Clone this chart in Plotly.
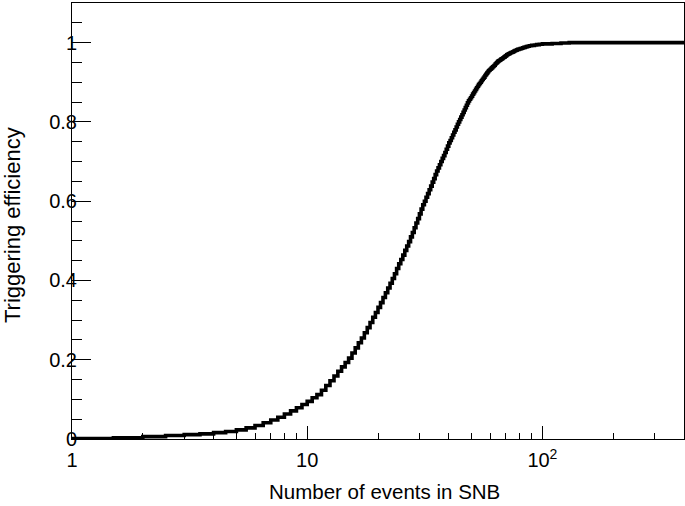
import numpy as np
import plotly.graph_objects as go

# Histogram: bins of 0.5 events from 1 to 100, then a few wide tail bins
fine_start = 1.0
fine_width = 0.5
tail_edges = [110, 120, 130, 400]
x_min = 1.0
x_max = 400.0

# Triggering efficiency per 0.5-wide bin, 1.0 ... 100.0
efficiency_fine = [
    0.001, 0.003, 0.006, 0.009, 0.011, 0.013, 0.016, 0.019, 0.023, 0.028,
    0.034, 0.041, 0.048, 0.055, 0.063, 0.071, 0.079, 0.087, 0.095, 0.104,
    0.112, 0.123, 0.135, 0.147, 0.159, 0.171, 0.182, 0.193, 0.204, 0.217,
    0.230, 0.243, 0.255, 0.268, 0.281, 0.294, 0.307, 0.319, 0.332, 0.344,
    0.357, 0.369, 0.381, 0.393, 0.405, 0.417, 0.430, 0.442, 0.453, 0.464,
    0.476, 0.487, 0.498, 0.510, 0.521, 0.533, 0.545, 0.556, 0.568, 0.580,
    0.591, 0.600, 0.610, 0.619, 0.629, 0.638, 0.648, 0.657, 0.667, 0.676,
    0.684, 0.692, 0.700, 0.708, 0.715, 0.723, 0.731, 0.739, 0.747, 0.753,
    0.760, 0.767, 0.774, 0.780, 0.787, 0.794, 0.800, 0.806, 0.812, 0.818,
    0.824, 0.830, 0.836, 0.842, 0.848, 0.853, 0.857, 0.861, 0.865, 0.870,
    0.874, 0.878, 0.882, 0.886, 0.890, 0.894, 0.897, 0.900, 0.904, 0.907,
    0.910, 0.913, 0.917, 0.920, 0.923, 0.926, 0.929, 0.931, 0.933, 0.935,
    0.937, 0.939, 0.941, 0.943, 0.946, 0.948, 0.950, 0.952, 0.954, 0.955,
    0.956, 0.958, 0.959, 0.960, 0.962, 0.963, 0.964, 0.966, 0.967, 0.969,
    0.970, 0.971, 0.972, 0.973, 0.974, 0.975, 0.975, 0.976, 0.977, 0.978,
    0.979, 0.980, 0.980, 0.981, 0.982, 0.983, 0.983, 0.984, 0.984, 0.985,
    0.985, 0.986, 0.986, 0.987, 0.987, 0.988, 0.988, 0.989, 0.989, 0.990,
    0.990, 0.991, 0.991, 0.991, 0.992, 0.992, 0.992, 0.992, 0.993, 0.993,
    0.993, 0.993, 0.993, 0.994, 0.994, 0.994, 0.994, 0.995, 0.995, 0.995,
    0.995, 0.995, 0.996, 0.996, 0.996, 0.996, 0.996, 0.996,
]
# Efficiency in the wide tail bins 100-110, 110-120, 120-130, 130-400
efficiency_tail = [0.997, 0.998, 0.999, 1.000]

x_tickvals = [1, 10, 100]
x_ticktext = ["1", "10", "10<sup>2</sup>"]
x_minor = [2, 3, 4, 5, 6, 7, 8, 9, 20, 30, 40, 50, 60, 70, 80, 90, 200, 300]
y_tickvals = [0, 0.2, 0.4, 0.6, 0.8, 1.0]
y_ticktext = ["0", "0.2", "0.4", "0.6", "0.8", "1"]

x_title = "Number of events in SNB"
y_title = "Triggering efficiency"

n_fine = len(efficiency_fine)
fine_edges = list(fine_start + fine_width * np.arange(n_fine + 1))
edges = fine_edges + tail_edges
values = efficiency_fine + efficiency_tail
xs = edges
ys = values + [values[-1]]

FONT = "Liberation Sans, Arial, sans-serif"

fig = go.Figure()
fig.add_trace(go.Scatter(
    x=xs, y=ys, mode="lines", line=dict(shape="hv", color="black", width=3.6),
    showlegend=False, hoverinfo="skip",
))

fig.update_layout(
    width=685, height=506,
    margin=dict(l=72, r=1, t=3, b=67, autoexpand=False),
    paper_bgcolor="white", plot_bgcolor="white",
    font=dict(family=FONT, size=20, color="black"),
    xaxis=dict(
        type="log", range=[np.log10(x_min), np.log10(x_max)],
        automargin=False,
        tickmode="array", tickvals=x_tickvals, ticktext=x_ticktext,
        ticks="inside", ticklen=13, tickwidth=1, tickcolor="black",
        ticklabelstandoff=3,
        minor=dict(tickmode="array", tickvals=x_minor, ticks="inside",
                   ticklen=6, tickwidth=1, tickcolor="black", showgrid=False),
        showline=True, linecolor="black", linewidth=1, mirror=True,
        showgrid=False, zeroline=False,
        tickfont=dict(family=FONT, size=20, color="black"),
    ),
    yaxis=dict(
        range=[0, 1.1], automargin=False,
        tickmode="array", tickvals=y_tickvals, ticktext=y_ticktext,
        ticks="inside", ticklen=19, tickwidth=1, tickcolor="black",
        ticklabelstandoff=-10,
        minor=dict(dtick=0.05, tick0=0, ticks="inside", ticklen=10,
                   tickwidth=1, tickcolor="black", showgrid=False),
        showline=True, linecolor="black", linewidth=1, mirror=True,
        showgrid=False, zeroline=False,
        tickfont=dict(family=FONT, size=20, color="black"),
    ),
    annotations=[
        dict(text=x_title, xref="paper", yref="paper", x=0.5, y=0.0,
             xanchor="center", yanchor="middle", yshift=-52, xshift=6,
             showarrow=False, font=dict(family=FONT, size=20.5, color="black")),
        dict(text=y_title, xref="paper", yref="paper", x=0, y=0.5,
             xanchor="center", yanchor="middle", xshift=-60, yshift=-4,
             textangle=-90, showarrow=False,
             font=dict(family=FONT, size=22, color="black")),
    ],
)

fig.write_html("out.html",
               config={"displayModeBar": False},
               post_script="document.body.style.margin='0';document.body.style.overflow='hidden';")
